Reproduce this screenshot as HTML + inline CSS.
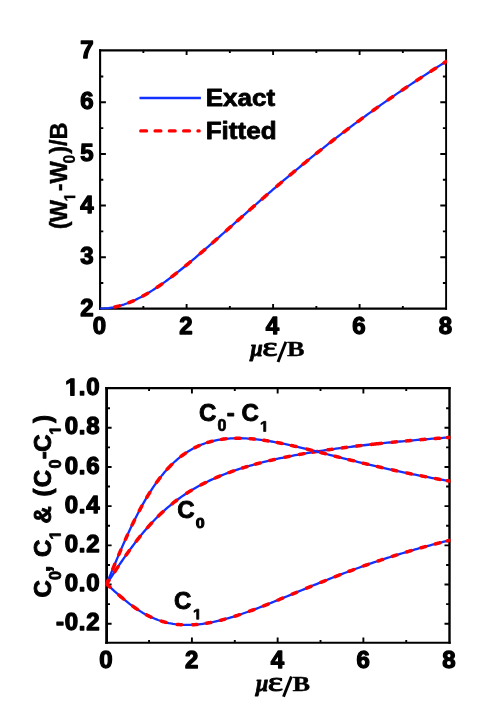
<!DOCTYPE html>
<html><head><meta charset="utf-8"><title>Figure</title>
<style>html,body{margin:0;padding:0;background:#fff}svg{display:block;will-change:transform;filter:blur(0.55px)}text{font-family:"Liberation Sans",sans-serif;font-weight:bold;fill:#000;stroke:#000;stroke-width:1.25px;stroke-linejoin:round}.t{font-size:24px}.k{letter-spacing:0.7px}.l{letter-spacing:1px}.s{font-size:16px}.ser{font-family:"Liberation Serif",serif;font-weight:bold;stroke:none}</style></head><body>
<svg width="498" height="726" viewBox="0 0 498 726">
<rect width="498" height="726" fill="#fff"/>
<defs><clipPath id="c1"><rect x="99.1" y="49.4" width="348.0" height="260.2"/></clipPath>
<clipPath id="c2"><rect x="105.6" y="387.1" width="344.9" height="256.7"/></clipPath></defs>
<path d="M186.60 308.60L186.60 304.10 M186.60 50.40L186.60 54.90 M273.10 308.60L273.10 304.10 M273.10 50.40L273.10 54.90 M359.60 308.60L359.60 304.10 M359.60 50.40L359.60 54.90 M143.35 308.60L143.35 306.00 M143.35 50.40L143.35 53.00 M229.85 308.60L229.85 306.00 M229.85 50.40L229.85 53.00 M316.35 308.60L316.35 306.00 M316.35 50.40L316.35 53.00 M402.85 308.60L402.85 306.00 M402.85 50.40L402.85 53.00 M100.10 257.21L105.90 257.21 M446.10 257.21L440.30 257.21 M100.10 205.57L105.90 205.57 M446.10 205.57L440.30 205.57 M100.10 153.93L105.90 153.93 M446.10 153.93L440.30 153.93 M100.10 102.29L105.90 102.29 M446.10 102.29L440.30 102.29 M100.10 283.03L103.30 283.03 M446.10 283.03L442.90 283.03 M100.10 231.39L103.30 231.39 M446.10 231.39L442.90 231.39 M100.10 179.75L103.30 179.75 M446.10 179.75L442.90 179.75 M100.10 128.11L103.30 128.11 M446.10 128.11L442.90 128.11 M100.10 76.47L103.30 76.47 M446.10 76.47L442.90 76.47" stroke="#000" stroke-width="1.9" fill="none"/>
<path d="M100.10 49.30V309.70" stroke="#000" stroke-width="2.1" fill="none"/>
<path d="M446.10 49.30V309.70" stroke="#000" stroke-width="1.9" fill="none"/>
<path d="M99.05 50.40H447.05" stroke="#000" stroke-width="2.2" fill="none"/>
<path d="M99.05 308.60H447.05" stroke="#000" stroke-width="2.2" fill="none"/>
<g clip-path="url(#c1)">
<path d="M100.10 308.60 L102.26 308.57 L104.42 308.46 L106.59 308.29 L108.75 308.05 L110.91 307.74 L113.07 307.37 L115.24 306.93 L117.40 306.42 L119.56 305.85 L121.72 305.22 L123.89 304.53 L126.05 303.77 L128.21 302.96 L130.38 302.09 L132.54 301.17 L134.70 300.19 L136.86 299.16 L139.03 298.08 L141.19 296.95 L143.35 295.77 L145.51 294.55 L147.68 293.29 L149.84 291.98 L152.00 290.63 L154.16 289.25 L156.32 287.83 L158.49 286.37 L160.65 284.89 L162.81 283.37 L164.97 281.82 L167.14 280.24 L169.30 278.63 L171.46 277.00 L173.62 275.35 L175.79 273.67 L177.95 271.97 L180.11 270.26 L182.28 268.52 L184.44 266.76 L186.60 264.99 L188.76 263.20 L190.93 261.40 L193.09 259.59 L195.25 257.76 L197.41 255.92 L199.57 254.07 L201.74 252.21 L203.90 250.34 L206.06 248.47 L208.22 246.58 L210.39 244.69 L212.55 242.80 L214.71 240.89 L216.88 238.99 L219.04 237.08 L221.20 235.17 L223.36 233.25 L225.52 231.33 L227.69 229.41 L229.85 227.49 L232.01 225.57 L234.18 223.65 L236.34 221.73 L238.50 219.81 L240.66 217.89 L242.83 215.97 L244.99 214.05 L247.15 212.14 L249.31 210.23 L251.47 208.32 L253.64 206.42 L255.80 204.51 L257.96 202.62 L260.12 200.72 L262.29 198.83 L264.45 196.95 L266.61 195.07 L268.77 193.19 L270.94 191.32 L273.10 189.45 L275.26 187.59 L277.42 185.74 L279.59 183.89 L281.75 182.05 L283.91 180.21 L286.07 178.38 L288.24 176.56 L290.40 174.74 L292.56 172.93 L294.73 171.12 L296.89 169.33 L299.05 167.54 L301.21 165.75 L303.38 163.97 L305.54 162.20 L307.70 160.44 L309.86 158.68 L312.02 156.93 L314.19 155.19 L316.35 153.45 L318.51 151.73 L320.68 150.01 L322.84 148.29 L325.00 146.58 L327.16 144.88 L329.32 143.19 L331.49 141.51 L333.65 139.83 L335.81 138.16 L337.98 136.49 L340.14 134.84 L342.30 133.19 L344.46 131.54 L346.62 129.91 L348.79 128.28 L350.95 126.66 L353.11 125.04 L355.27 123.44 L357.44 121.84 L359.60 120.24 L361.76 118.65 L363.93 117.07 L366.09 115.50 L368.25 113.93 L370.41 112.37 L372.57 110.82 L374.74 109.27 L376.90 107.73 L379.06 106.20 L381.23 104.67 L383.39 103.15 L385.55 101.63 L387.71 100.12 L389.88 98.62 L392.04 97.12 L394.20 95.63 L396.36 94.15 L398.52 92.67 L400.69 91.20 L402.85 89.73 L405.01 88.27 L407.18 86.82 L409.34 85.37 L411.50 83.92 L413.66 82.49 L415.82 81.05 L417.99 79.63 L420.15 78.21 L422.31 76.79 L424.48 75.38 L426.64 73.97 L428.80 72.58 L430.96 71.18 L433.12 69.79 L435.29 68.41 L437.45 67.03 L439.61 65.65 L441.77 64.28 L443.94 62.92 L446.10 61.56" fill="none" stroke="#1230ff" stroke-width="2.3" stroke-linecap="butt" stroke-linejoin="round"/>
<path d="M114.80 307.02 L115.45 306.88 L116.10 306.73 L116.75 306.58 L117.40 306.42 L118.05 306.26 L118.70 306.09 L119.35 305.91 M128.86 302.71 L129.51 302.45 L130.16 302.18 L130.81 301.91 L131.46 301.64 L132.10 301.36 L132.75 301.07 L133.40 300.78 M142.92 296.01 L143.57 295.65 L144.22 295.29 L144.86 294.92 L145.51 294.55 L146.16 294.18 L146.81 293.80 L147.46 293.41 M157.19 287.25 L157.84 286.81 L158.49 286.37 L159.14 285.93 L159.78 285.48 L160.43 285.04 L161.08 284.58 L161.73 284.13 M171.89 276.68 L172.54 276.18 L173.19 275.68 L173.84 275.18 L174.49 274.68 L175.14 274.18 L175.79 273.67 L176.44 273.17 M185.74 265.70 L186.38 265.17 L187.03 264.64 L187.68 264.10 L188.33 263.56 L188.98 263.02 L189.63 262.49 L190.28 261.94 M200.22 253.51 L200.87 252.96 L201.52 252.40 L202.17 251.84 L202.82 251.28 L203.47 250.72 L204.12 250.16 L204.76 249.59 M212.55 242.80 L213.20 242.23 L213.85 241.66 L214.50 241.09 L215.14 240.51 L215.79 239.94 L216.44 239.37 L217.09 238.80 M226.39 230.56 L227.04 229.99 L227.69 229.41 L228.34 228.84 L228.98 228.26 L229.63 227.68 L230.28 227.11 L230.93 226.53 M237.63 220.58 L238.28 220.00 L238.93 219.42 L239.58 218.85 L240.23 218.27 L240.88 217.70 L241.53 217.12 L242.18 216.55 M249.75 209.85 L250.39 209.27 L251.04 208.70 L251.69 208.13 L252.34 207.56 L252.99 206.99 L253.64 206.42 L254.29 205.84 M262.29 198.83 L262.94 198.27 L263.59 197.70 L264.23 197.14 L264.88 196.57 L265.53 196.01 L266.18 195.44 L266.83 194.88 M276.78 186.30 L277.42 185.74 L278.07 185.19 L278.72 184.63 L279.37 184.08 L280.02 183.52 L280.67 182.97 L281.32 182.42 M290.18 174.92 L290.83 174.38 L291.48 173.83 L292.13 173.29 L292.78 172.75 L293.43 172.21 L294.08 171.67 L294.73 171.12 M303.16 164.15 L303.81 163.62 L304.46 163.09 L305.11 162.56 L305.75 162.03 L306.40 161.50 L307.05 160.97 L307.70 160.44 M316.35 153.45 L317.00 152.94 L317.65 152.42 L318.30 151.90 L318.95 151.38 L319.59 150.87 L320.24 150.35 L320.89 149.83 M330.19 142.52 L330.84 142.01 L331.49 141.51 L332.14 141.00 L332.78 140.50 L333.43 140.00 L334.08 139.49 L334.73 138.99 M343.81 132.04 L344.46 131.54 L345.11 131.05 L345.76 130.56 L346.41 130.07 L347.06 129.58 L347.71 129.09 L348.36 128.61 M357.87 121.52 L358.52 121.04 L359.17 120.56 L359.82 120.08 L360.47 119.61 L361.11 119.13 L361.76 118.65 L362.41 118.18 M372.79 110.66 L373.44 110.20 L374.09 109.74 L374.74 109.27 L375.39 108.81 L376.03 108.35 L376.68 107.89 L377.33 107.42 M388.14 99.82 L388.79 99.37 L389.44 98.92 L390.09 98.47 L390.74 98.02 L391.39 97.57 L392.04 97.12 L392.69 96.68 M402.20 90.17 L402.85 89.73 L403.50 89.29 L404.15 88.86 L404.80 88.42 L405.45 87.98 L406.09 87.54 L406.74 87.11 M416.69 80.48 L417.34 80.05 L417.99 79.63 L418.64 79.20 L419.28 78.77 L419.93 78.35 L420.58 77.92 L421.23 77.50 M430.96 71.18 L431.61 70.76 L432.26 70.35 L432.91 69.93 L433.56 69.51 L434.21 69.10 L434.86 68.68 L435.50 68.27 M443.94 62.92 L444.59 62.51 L445.24 62.10 L445.88 61.70 L446.10 61.56" fill="none" stroke="#ff0000" stroke-width="3.5" stroke-linecap="round" stroke-linejoin="round"/>
</g>
<text transform="translate(93.50 315.90)" style="font-size:24px;stroke-width:1.3px" text-anchor="end">2</text>
<text transform="translate(93.50 264.26)" style="font-size:24px;stroke-width:1.3px" text-anchor="end">3</text>
<text transform="translate(93.50 212.62)" style="font-size:24px;stroke-width:1.3px" text-anchor="end">4</text>
<text transform="translate(93.50 160.98)" style="font-size:24px;stroke-width:1.3px" text-anchor="end">5</text>
<text transform="translate(93.50 109.34)" style="font-size:24px;stroke-width:1.3px" text-anchor="end">6</text>
<text transform="translate(93.50 57.70)" style="font-size:24px;stroke-width:1.3px" text-anchor="end">7</text>
<text transform="translate(99.50 334.00)" style="font-size:24px;stroke-width:1.3px" text-anchor="middle">0</text>
<text transform="translate(186.00 334.00)" style="font-size:24px;stroke-width:1.3px" text-anchor="middle">2</text>
<text transform="translate(272.50 334.00)" style="font-size:24px;stroke-width:1.3px" text-anchor="middle">4</text>
<text transform="translate(359.00 334.00)" style="font-size:24px;stroke-width:1.3px" text-anchor="middle">6</text>
<text transform="translate(445.50 334.00)" style="font-size:24px;stroke-width:1.3px" text-anchor="middle">8</text>
<path d="M139.5 97.95H200.9" stroke="#1230ff" stroke-width="2.6" fill="none"/>
<path d="M140.7 130.9H199.2" stroke="#ff0000" stroke-width="3.2" fill="none" stroke-linecap="round" stroke-dasharray="5.9 8.4"/>
<text transform="translate(205.70 106.20) scale(1.085 0.965)" style="font-size:24px;stroke-width:0.8px">Exact</text>
<text transform="translate(205.70 139.20) scale(1.085 0.965)" style="font-size:24px;stroke-width:0.8px">Fitted</text>
<g transform="translate(66.5 230.2) rotate(-90) scale(0.982 1)">
<text transform="translate(0.90 0.00) scale(1 1.000)" style="font-size:24px;stroke-width:0.4px">(</text>
<text transform="translate(7.99 0.00) scale(1 1.000)" style="font-size:24px;stroke-width:0.4px">W</text>
<path d="M478 0V1170L140 959V1180L493 1409H759V0Z" transform="translate(29.15 8.70) scale(0.00781 -0.00781)" fill="#000" stroke="#000" stroke-width="0.3" stroke-linejoin="round" vector-effect="non-scaling-stroke"/>
<text transform="translate(39.54 0.00) scale(1 1.000)" style="font-size:24px;stroke-width:0.4px">-</text>
<text transform="translate(47.54 0.00) scale(1 1.000)" style="font-size:24px;stroke-width:0.4px">W</text>
<text transform="translate(67.89 8.70) scale(1 1.000)" style="font-size:16px;stroke-width:0.3px">0</text>
<text transform="translate(77.79 0.00) scale(1 1.000)" style="font-size:24px;stroke-width:0.4px">)</text>
<text transform="translate(85.78 0.00) scale(1 1.000)" style="font-size:24px;stroke-width:0.4px">/</text>
<text transform="translate(92.35 0.00) scale(1 1.000)" style="font-size:24px;stroke-width:0.4px">B</text>
</g>
<g transform="translate(0.00 0.00)">
<text class="ser" font-size="100" font-style="italic" transform="translate(250.54 355.92) scale(0.2209 0.2247)" style="stroke:#000;stroke-width:3.6px">μ</text>
<text class="ser" font-size="100" transform="translate(262.29 356.13) scale(0.3659 0.2765)" style="font-weight:normal;stroke:#000;stroke-width:3.4px">ε</text>
<path d="M278.0 362.1L285.9 341.7" stroke="#000" stroke-width="2.9" fill="none"/>
<text class="ser" font-size="100" transform="translate(287.06 356.04) scale(0.2634 0.1992)" style="stroke:#000;stroke-width:1.6px">B</text>
</g>
<path d="M191.92 642.80L191.92 637.40 M191.92 388.10L191.92 393.50 M277.65 642.80L277.65 637.40 M277.65 388.10L277.65 393.50 M363.38 642.80L363.38 637.40 M363.38 388.10L363.38 393.50 M149.06 642.80L149.06 640.00 M149.06 388.10L149.06 390.90 M234.79 642.80L234.79 640.00 M234.79 388.10L234.79 390.90 M320.51 642.80L320.51 640.00 M320.51 388.10L320.51 390.90 M406.24 642.80L406.24 640.00 M406.24 388.10L406.24 390.90 M106.60 623.71L111.60 623.71 M449.50 623.71L444.50 623.71 M106.60 584.52L111.60 584.52 M449.50 584.52L444.50 584.52 M106.60 545.34L111.60 545.34 M449.50 545.34L444.50 545.34 M106.60 506.15L111.60 506.15 M449.50 506.15L444.50 506.15 M106.60 466.97L111.60 466.97 M449.50 466.97L444.50 466.97 M106.60 427.78L111.60 427.78 M449.50 427.78L444.50 427.78 M106.60 604.12L110.00 604.12 M449.50 604.12L446.10 604.12 M106.60 564.93L110.00 564.93 M449.50 564.93L446.10 564.93 M106.60 525.75L110.00 525.75 M449.50 525.75L446.10 525.75 M106.60 486.56L110.00 486.56 M449.50 486.56L446.10 486.56 M106.60 447.38L110.00 447.38 M449.50 447.38L446.10 447.38 M106.60 408.19L110.00 408.19 M449.50 408.19L446.10 408.19" stroke="#000" stroke-width="1.9" fill="none"/>
<path d="M106.60 387.05V643.85" stroke="#000" stroke-width="2.8" fill="none"/>
<path d="M449.50 387.05V643.85" stroke="#000" stroke-width="2.4" fill="none"/>
<path d="M105.20 388.10H450.70" stroke="#000" stroke-width="2.1" fill="none"/>
<path d="M105.20 642.80H450.70" stroke="#000" stroke-width="2.1" fill="none"/>
<g clip-path="url(#c2)">
<path d="M106.60 584.02 L108.74 580.76 L110.89 577.50 L113.03 574.25 L115.17 571.02 L117.32 567.82 L119.46 564.64 L121.60 561.50 L123.74 558.39 L125.89 555.33 L128.03 552.32 L130.17 549.36 L132.32 546.45 L134.46 543.59 L136.60 540.80 L138.75 538.07 L140.89 535.40 L143.03 532.79 L145.18 530.26 L147.32 527.78 L149.46 525.37 L151.61 523.03 L153.75 520.76 L155.89 518.54 L158.03 516.40 L160.18 514.31 L162.32 512.29 L164.46 510.33 L166.61 508.43 L168.75 506.59 L170.89 504.81 L173.04 503.08 L175.18 501.40 L177.32 499.78 L179.47 498.21 L181.61 496.68 L183.75 495.21 L185.90 493.78 L188.04 492.39 L190.18 491.05 L192.32 489.75 L194.47 488.48 L196.61 487.26 L198.75 486.07 L200.90 484.92 L203.04 483.80 L205.18 482.71 L207.33 481.66 L209.47 480.64 L211.61 479.64 L213.76 478.68 L215.90 477.74 L218.04 476.82 L220.19 475.93 L222.33 475.07 L224.47 474.23 L226.62 473.41 L228.76 472.61 L230.90 471.83 L233.04 471.08 L235.19 470.34 L237.33 469.62 L239.47 468.92 L241.62 468.23 L243.76 467.56 L245.90 466.91 L248.05 466.27 L250.19 465.65 L252.33 465.04 L254.48 464.45 L256.62 463.87 L258.76 463.30 L260.90 462.74 L263.05 462.20 L265.19 461.66 L267.33 461.14 L269.48 460.63 L271.62 460.13 L273.76 459.64 L275.91 459.16 L278.05 458.69 L280.19 458.23 L282.34 457.78 L284.48 457.34 L286.62 456.90 L288.77 456.47 L290.91 456.05 L293.05 455.64 L295.19 455.24 L297.34 454.84 L299.48 454.45 L301.62 454.07 L303.77 453.69 L305.91 453.32 L308.05 452.96 L310.20 452.60 L312.34 452.25 L314.48 451.90 L316.63 451.56 L318.77 451.23 L320.91 450.90 L323.06 450.57 L325.20 450.25 L327.34 449.94 L329.49 449.63 L331.63 449.32 L333.77 449.02 L335.91 448.73 L338.06 448.43 L340.20 448.15 L342.34 447.86 L344.49 447.58 L346.63 447.31 L348.77 447.04 L350.92 446.77 L353.06 446.51 L355.20 446.24 L357.35 445.99 L359.49 445.73 L361.63 445.48 L363.77 445.24 L365.92 444.99 L368.06 444.75 L370.20 444.51 L372.35 444.28 L374.49 444.05 L376.63 443.82 L378.78 443.59 L380.92 443.37 L383.06 443.15 L385.21 442.93 L387.35 442.72 L389.49 442.50 L391.64 442.29 L393.78 442.08 L395.92 441.88 L398.06 441.68 L400.21 441.48 L402.35 441.28 L404.49 441.08 L406.64 440.89 L408.78 440.69 L410.92 440.50 L413.07 440.32 L415.21 440.13 L417.35 439.95 L419.50 439.77 L421.64 439.59 L423.78 439.41 L425.93 439.23 L428.07 439.06 L430.21 438.88 L432.36 438.71 L434.50 438.54 L436.64 438.38 L438.78 438.21 L440.93 438.05 L443.07 437.89 L445.21 437.72 L447.36 437.57 L449.50 437.41" fill="none" stroke="#1230ff" stroke-width="2.3" stroke-linecap="butt" stroke-linejoin="round"/>
<path d="M106.60 584.02 L107.24 583.04 L107.89 582.06 L108.53 581.08 L108.96 580.43 M114.74 571.67 L115.39 570.70 L116.03 569.74 L116.67 568.78 L117.32 567.82 L117.96 566.86 M126.10 555.03 L126.75 554.12 L127.39 553.22 L128.03 552.32 L128.67 551.42 L129.32 550.53 M136.39 541.08 L137.03 540.25 L137.68 539.43 L138.32 538.61 L138.96 537.80 L139.60 536.99 L140.03 536.46 M147.53 527.54 L148.18 526.81 L148.82 526.09 L149.46 525.37 L150.11 524.66 L150.75 523.96 L151.39 523.26 L151.61 523.03 M158.46 515.98 L159.11 515.35 L159.75 514.73 L160.39 514.11 L161.04 513.50 L161.68 512.89 L162.32 512.29 L162.96 511.70 M172.18 503.76 L172.82 503.25 L173.47 502.74 L174.11 502.23 L174.75 501.73 L175.39 501.24 L176.04 500.75 L176.68 500.26 M186.75 493.22 L187.40 492.80 L188.04 492.39 L188.68 491.98 L189.32 491.58 L189.97 491.18 L190.61 490.78 L191.25 490.39 M201.11 484.81 L201.75 484.47 L202.40 484.13 L203.04 483.80 L203.68 483.47 L204.33 483.15 L204.97 482.82 L205.61 482.50 M215.26 478.02 L215.90 477.74 L216.54 477.46 L217.19 477.19 L217.83 476.91 L218.47 476.64 L219.11 476.38 L219.76 476.11 M228.97 472.53 L229.62 472.30 L230.26 472.06 L230.90 471.83 L231.54 471.60 L232.19 471.38 L232.83 471.15 L233.47 470.93 M242.47 467.96 L243.12 467.76 L243.76 467.56 L244.40 467.37 L245.05 467.17 L245.69 466.97 L246.33 466.78 L246.97 466.59 M255.55 464.15 L256.19 463.98 L256.83 463.81 L257.48 463.64 L258.12 463.47 L258.76 463.30 L259.40 463.13 L260.05 462.96 M269.91 460.53 L270.55 460.38 L271.19 460.23 L271.83 460.08 L272.48 459.94 L273.12 459.79 L273.76 459.64 L274.41 459.50 M284.91 457.25 L285.55 457.12 L286.19 456.99 L286.84 456.86 L287.48 456.73 L288.12 456.60 L288.77 456.47 L289.41 456.35 M299.48 454.45 L300.12 454.34 L300.77 454.22 L301.41 454.11 L302.05 453.99 L302.70 453.88 L303.34 453.77 L303.98 453.65 M312.98 452.14 L313.63 452.04 L314.27 451.94 L314.91 451.83 L315.55 451.73 L316.20 451.63 L316.84 451.53 L317.48 451.43 M327.98 449.84 L328.63 449.75 L329.27 449.66 L329.91 449.57 L330.56 449.48 L331.20 449.38 L331.84 449.29 L332.49 449.20 M342.13 447.89 L342.77 447.81 L343.42 447.72 L344.06 447.64 L344.70 447.56 L345.34 447.47 L345.99 447.39 L346.63 447.31 M356.49 446.09 L357.13 446.01 L357.77 445.94 L358.42 445.86 L359.06 445.78 L359.70 445.71 L360.35 445.63 L360.99 445.56 M392.06 442.25 L392.71 442.19 L393.35 442.13 L393.99 442.06 L394.64 442.00 L395.28 441.94 L395.92 441.88 L396.56 441.82 M406.21 440.93 L406.85 440.87 L407.49 440.81 L408.14 440.75 L408.78 440.69 L409.42 440.64 L410.07 440.58 L410.71 440.52 M420.57 439.68 L421.21 439.62 L421.85 439.57 L422.50 439.51 L423.14 439.46 L423.78 439.41 L424.43 439.35 L425.07 439.30 M435.14 438.49 L435.78 438.44 L436.43 438.39 L437.07 438.34 L437.71 438.29 L438.36 438.24 L439.00 438.20 L439.64 438.15 M447.36 437.57 L448.00 437.52 L448.64 437.47 L449.29 437.42 L449.50 437.41 M371.28 444.40 L371.92 444.33 L372.56 444.26 L373.20 444.19 L373.85 444.12 L374.49 444.05 L375.13 443.98 L375.78 443.91 L376.42 443.84 L377.06 443.77 L377.71 443.71 L378.35 443.64 L378.99 443.57 L379.63 443.50 L380.28 443.44 L380.92 443.37 L381.35 443.33" fill="none" stroke="#ff0000" stroke-width="3.5" stroke-linecap="round" stroke-linejoin="round"/>
<path d="M106.60 584.02 L108.74 578.80 L110.89 573.59 L113.03 568.40 L115.17 563.25 L117.32 558.15 L119.46 553.10 L121.60 548.13 L123.74 543.23 L125.89 538.42 L128.03 533.70 L130.17 529.09 L132.32 524.58 L134.46 520.19 L136.60 515.93 L138.75 511.78 L140.89 507.77 L143.03 503.88 L145.18 500.13 L147.32 496.51 L149.46 493.03 L151.61 489.68 L153.75 486.46 L155.89 483.38 L158.03 480.43 L160.18 477.61 L162.32 474.91 L164.46 472.34 L166.61 469.90 L168.75 467.57 L170.89 465.36 L173.04 463.26 L175.18 461.27 L177.32 459.40 L179.47 457.62 L181.61 455.95 L183.75 454.37 L185.90 452.89 L188.04 451.50 L190.18 450.19 L192.32 448.98 L194.47 447.84 L196.61 446.78 L198.75 445.80 L200.90 444.89 L203.04 444.05 L205.18 443.28 L207.33 442.58 L209.47 441.93 L211.61 441.35 L213.76 440.82 L215.90 440.35 L218.04 439.93 L220.19 439.57 L222.33 439.25 L224.47 438.97 L226.62 438.75 L228.76 438.56 L230.90 438.42 L233.04 438.32 L235.19 438.25 L237.33 438.22 L239.47 438.23 L241.62 438.26 L243.76 438.33 L245.90 438.43 L248.05 438.56 L250.19 438.71 L252.33 438.90 L254.48 439.10 L256.62 439.33 L258.76 439.58 L260.90 439.86 L263.05 440.15 L265.19 440.46 L267.33 440.79 L269.48 441.14 L271.62 441.50 L273.76 441.88 L275.91 442.28 L278.05 442.68 L280.19 443.11 L282.34 443.54 L284.48 443.98 L286.62 444.43 L288.77 444.90 L290.91 445.37 L293.05 445.85 L295.19 446.34 L297.34 446.84 L299.48 447.34 L301.62 447.85 L303.77 448.36 L305.91 448.88 L308.05 449.40 L310.20 449.93 L312.34 450.46 L314.48 450.99 L316.63 451.53 L318.77 452.07 L320.91 452.61 L323.06 453.15 L325.20 453.69 L327.34 454.24 L329.49 454.78 L331.63 455.32 L333.77 455.87 L335.91 456.41 L338.06 456.95 L340.20 457.49 L342.34 458.03 L344.49 458.57 L346.63 459.11 L348.77 459.65 L350.92 460.18 L353.06 460.71 L355.20 461.24 L357.35 461.77 L359.49 462.29 L361.63 462.81 L363.77 463.33 L365.92 463.85 L368.06 464.36 L370.20 464.87 L372.35 465.37 L374.49 465.87 L376.63 466.37 L378.78 466.87 L380.92 467.36 L383.06 467.85 L385.21 468.33 L387.35 468.81 L389.49 469.29 L391.64 469.76 L393.78 470.23 L395.92 470.70 L398.06 471.16 L400.21 471.61 L402.35 472.07 L404.49 472.52 L406.64 472.96 L408.78 473.41 L410.92 473.84 L413.07 474.28 L415.21 474.71 L417.35 475.13 L419.50 475.55 L421.64 475.97 L423.78 476.39 L425.93 476.80 L428.07 477.20 L430.21 477.61 L432.36 478.01 L434.50 478.40 L436.64 478.79 L438.78 479.18 L440.93 479.56 L443.07 479.95 L445.21 480.32 L447.36 480.70 L449.50 481.07" fill="none" stroke="#1230ff" stroke-width="2.3" stroke-linecap="butt" stroke-linejoin="round"/>
<path d="M106.60 584.02 L107.24 582.46 L107.89 580.89 L108.10 580.37 M112.82 568.92 L113.46 567.37 L114.10 565.82 L114.74 564.28 M118.82 554.61 L119.46 553.10 L120.10 551.60 L120.74 550.11 M125.46 539.37 L126.10 537.94 L126.75 536.52 L127.39 535.10 M132.10 525.03 L132.75 523.70 L133.39 522.37 L134.03 521.06 L134.46 520.19 M139.39 510.57 L140.03 509.36 L140.68 508.16 L141.32 506.98 L141.75 506.20 M146.89 497.23 L147.53 496.16 L148.18 495.10 L148.82 494.06 L149.46 493.03 L149.68 492.69 M156.53 482.48 L157.18 481.59 L157.82 480.72 L158.46 479.85 L159.11 479.00 L159.75 478.16 L159.96 477.88 M167.25 469.18 L167.89 468.48 L168.54 467.80 L169.18 467.12 L169.82 466.45 L170.47 465.79 L171.11 465.14 L171.75 464.51 M180.97 456.44 L181.61 455.95 L182.25 455.46 L182.90 454.99 L183.54 454.52 L184.18 454.07 L184.82 453.62 L185.47 453.18 M194.68 447.73 L195.33 447.41 L195.97 447.09 L196.61 446.78 L197.25 446.48 L197.90 446.18 L198.54 445.89 L199.18 445.61 M207.76 442.44 L208.40 442.25 L209.04 442.06 L209.68 441.87 L210.33 441.69 L210.97 441.52 L211.61 441.35 L212.26 441.18 M221.47 439.37 L222.11 439.28 L222.76 439.19 L223.40 439.11 L224.04 439.03 L224.69 438.95 L225.33 438.88 L225.97 438.81 M235.62 438.24 L236.26 438.23 L236.90 438.23 L237.54 438.22 L238.19 438.22 L238.83 438.22 L239.47 438.23 L240.12 438.23 M249.98 438.70 L250.62 438.75 L251.26 438.80 L251.90 438.86 L252.55 438.92 L253.19 438.98 L253.83 439.04 L254.48 439.10 M263.69 440.24 L264.33 440.33 L264.98 440.43 L265.62 440.53 L266.26 440.62 L266.91 440.72 L267.55 440.83 L268.19 440.93 M277.41 442.56 L278.05 442.68 L278.69 442.81 L279.34 442.94 L279.98 443.06 L280.62 443.19 L281.26 443.32 L281.91 443.45 M291.55 445.51 L292.19 445.66 L292.84 445.80 L293.48 445.95 L294.12 446.09 L294.77 446.24 L295.41 446.39 L296.05 446.54 M306.98 449.14 L307.63 449.30 L308.27 449.45 L308.91 449.61 L309.55 449.77 L310.20 449.93 L310.84 450.09 L311.48 450.25 M320.91 452.61 L321.56 452.77 L322.20 452.93 L322.84 453.10 L323.48 453.26 L324.13 453.42 L324.77 453.58 L325.41 453.75 M335.06 456.19 L335.70 456.36 L336.34 456.52 L336.99 456.68 L337.63 456.84 L338.27 457.01 L338.91 457.17 L339.56 457.33 M348.99 459.70 L349.63 459.86 L350.27 460.02 L350.92 460.18 L351.56 460.34 L352.20 460.50 L352.85 460.66 L353.49 460.82 M363.13 463.18 L363.77 463.33 L364.42 463.49 L365.06 463.64 L365.70 463.79 L366.35 463.95 L366.99 464.10 L367.63 464.26 M377.49 466.57 L378.13 466.72 L378.78 466.87 L379.42 467.02 L380.06 467.16 L380.71 467.31 L381.35 467.46 L381.99 467.60 M392.28 469.90 L392.92 470.04 L393.56 470.18 L394.21 470.32 L394.85 470.46 L395.49 470.60 L396.14 470.74 L396.78 470.88 M406.85 473.01 L407.49 473.14 L408.14 473.27 L408.78 473.41 L409.42 473.54 L410.07 473.67 L410.71 473.80 L411.35 473.93 M421.21 475.89 L421.85 476.01 L422.50 476.14 L423.14 476.26 L423.78 476.39 L424.43 476.51 L425.07 476.63 L425.71 476.76 M435.57 478.60 L436.21 478.72 L436.86 478.83 L437.50 478.95 L438.14 479.06 L438.78 479.18 L439.43 479.30 L440.07 479.41 M447.36 480.70 L448.00 480.81 L448.64 480.92 L449.29 481.03 L449.50 481.07" fill="none" stroke="#ff0000" stroke-width="3.5" stroke-linecap="round" stroke-linejoin="round"/>
<path d="M106.60 584.02 L108.74 585.98 L110.89 587.93 L113.03 589.87 L115.17 591.80 L117.32 593.69 L119.46 595.56 L121.60 597.40 L123.74 599.19 L125.89 600.94 L128.03 602.64 L130.17 604.29 L132.32 605.89 L134.46 607.42 L136.60 608.90 L138.75 610.31 L140.89 611.65 L143.03 612.93 L145.18 614.15 L147.32 615.29 L149.46 616.37 L151.61 617.38 L153.75 618.31 L155.89 619.19 L158.03 619.99 L160.18 620.73 L162.32 621.40 L164.46 622.01 L166.61 622.56 L168.75 623.05 L170.89 623.47 L173.04 623.84 L175.18 624.15 L177.32 624.41 L179.47 624.61 L181.61 624.76 L183.75 624.86 L185.90 624.91 L188.04 624.92 L190.18 624.88 L192.32 624.79 L194.47 624.67 L196.61 624.50 L198.75 624.29 L200.90 624.05 L203.04 623.77 L205.18 623.46 L207.33 623.11 L209.47 622.73 L211.61 622.32 L213.76 621.88 L215.90 621.41 L218.04 620.91 L220.19 620.39 L222.33 619.85 L224.47 619.28 L226.62 618.68 L228.76 618.07 L230.90 617.44 L233.04 616.78 L235.19 616.11 L237.33 615.42 L239.47 614.71 L241.62 613.99 L243.76 613.25 L245.90 612.50 L248.05 611.74 L250.19 610.96 L252.33 610.17 L254.48 609.37 L256.62 608.56 L258.76 607.74 L260.90 606.91 L263.05 606.07 L265.19 605.23 L267.33 604.37 L269.48 603.52 L271.62 602.65 L273.76 601.78 L275.91 600.91 L278.05 600.03 L280.19 599.15 L282.34 598.27 L284.48 597.38 L286.62 596.49 L288.77 595.60 L290.91 594.71 L293.05 593.81 L295.19 592.92 L297.34 592.03 L299.48 591.14 L301.62 590.24 L303.77 589.35 L305.91 588.47 L308.05 587.58 L310.20 586.69 L312.34 585.81 L314.48 584.93 L316.63 584.06 L318.77 583.18 L320.91 582.31 L323.06 581.45 L325.20 580.58 L327.34 579.73 L329.49 578.87 L331.63 578.02 L333.77 577.18 L335.91 576.34 L338.06 575.51 L340.20 574.68 L342.34 573.85 L344.49 573.03 L346.63 572.22 L348.77 571.41 L350.92 570.61 L353.06 569.82 L355.20 569.03 L357.35 568.24 L359.49 567.47 L361.63 566.69 L363.77 565.93 L365.92 565.17 L368.06 564.42 L370.20 563.67 L372.35 562.93 L374.49 562.20 L376.63 561.47 L378.78 560.75 L380.92 560.03 L383.06 559.32 L385.21 558.62 L387.35 557.93 L389.49 557.24 L391.64 556.55 L393.78 555.88 L395.92 555.21 L398.06 554.54 L400.21 553.88 L402.35 553.23 L404.49 552.59 L406.64 551.95 L408.78 551.31 L410.92 550.69 L413.07 550.06 L415.21 549.45 L417.35 548.84 L419.50 548.23 L421.64 547.64 L423.78 547.04 L425.93 546.46 L428.07 545.88 L430.21 545.30 L432.36 544.73 L434.50 544.17 L436.64 543.61 L438.78 543.05 L440.93 542.51 L443.07 541.96 L445.21 541.43 L447.36 540.89 L449.50 540.37" fill="none" stroke="#1230ff" stroke-width="2.3" stroke-linecap="butt" stroke-linejoin="round"/>
<path d="M106.60 584.02 L107.24 584.61 L107.89 585.20 L108.53 585.79 L109.17 586.37 L109.81 586.96 M119.03 595.19 L119.67 595.75 L120.32 596.30 L120.96 596.85 L121.60 597.40 L122.24 597.94 L122.89 598.48 L123.53 599.01 M132.75 606.20 L133.39 606.66 L134.03 607.12 L134.67 607.57 L135.32 608.02 L135.96 608.46 L136.60 608.90 L137.25 609.33 M146.46 614.84 L147.11 615.18 L147.75 615.51 L148.39 615.84 L149.03 616.16 L149.68 616.47 L150.32 616.78 L150.96 617.08 M161.46 621.14 L162.11 621.34 L162.75 621.53 L163.39 621.72 L164.04 621.90 L164.68 622.07 L165.32 622.24 L165.96 622.40 M177.11 624.39 L177.75 624.45 L178.39 624.52 L179.04 624.57 L179.68 624.63 L180.32 624.68 L180.97 624.72 L181.61 624.76 M192.54 624.78 L193.18 624.75 L193.83 624.71 L194.47 624.67 L195.11 624.62 L195.75 624.57 L196.40 624.52 L197.04 624.46 M206.26 623.29 L206.90 623.18 L207.54 623.07 L208.18 622.96 L208.83 622.85 L209.47 622.73 L210.11 622.61 L210.76 622.49 M220.40 620.34 L221.04 620.18 L221.69 620.01 L222.33 619.85 L222.97 619.68 L223.61 619.51 L224.26 619.33 L224.90 619.16 M234.97 616.18 L235.62 615.97 L236.26 615.77 L236.90 615.56 L237.54 615.35 L238.19 615.14 L238.83 614.93 L239.47 614.71 M249.55 611.19 L250.19 610.96 L250.83 610.72 L251.48 610.49 L252.12 610.25 L252.76 610.01 L253.40 609.77 L254.05 609.53 M263.69 605.82 L264.33 605.57 L264.98 605.31 L265.62 605.06 L266.26 604.80 L266.91 604.55 L267.55 604.29 L268.19 604.03 M278.05 600.03 L278.69 599.77 L279.34 599.50 L279.98 599.24 L280.62 598.97 L281.26 598.71 L281.91 598.44 L282.55 598.18 M292.19 594.17 L292.84 593.90 L293.48 593.64 L294.12 593.37 L294.77 593.10 L295.41 592.83 L296.05 592.56 L296.70 592.30 M306.55 588.20 L307.20 587.93 L307.84 587.67 L308.48 587.40 L309.13 587.14 L309.77 586.87 L310.41 586.61 L311.05 586.34 M320.91 582.31 L321.56 582.05 L322.20 581.79 L322.84 581.53 L323.48 581.27 L324.13 581.01 L324.77 580.76 L325.41 580.50 M335.27 576.59 L335.91 576.34 L336.56 576.09 L337.20 575.84 L337.84 575.59 L338.49 575.34 L339.13 575.09 L339.77 574.84 M349.20 571.25 L349.84 571.01 L350.49 570.77 L351.13 570.53 L351.77 570.29 L352.42 570.05 L353.06 569.82 L353.70 569.58 M363.77 565.93 L364.42 565.70 L365.06 565.47 L365.70 565.25 L366.35 565.02 L366.99 564.79 L367.63 564.57 L368.28 564.34 M378.13 560.96 L378.78 560.75 L379.42 560.53 L380.06 560.32 L380.71 560.10 L381.35 559.89 L381.99 559.68 L382.63 559.47 M392.28 556.35 L392.92 556.15 L393.56 555.94 L394.21 555.74 L394.85 555.54 L395.49 555.34 L396.14 555.14 L396.78 554.94 M406.64 551.95 L407.28 551.76 L407.92 551.57 L408.57 551.38 L409.21 551.19 L409.85 551.00 L410.50 550.81 L411.14 550.62 M421.00 547.81 L421.64 547.64 L422.28 547.46 L422.93 547.28 L423.57 547.10 L424.21 546.93 L424.85 546.75 L425.50 546.57 M435.36 543.94 L436.00 543.77 L436.64 543.61 L437.28 543.44 L437.93 543.27 L438.57 543.11 L439.21 542.94 L439.86 542.78 M447.36 540.89 L448.00 540.73 L448.64 540.58 L449.29 540.42 L449.50 540.37" fill="none" stroke="#ff0000" stroke-width="3.5" stroke-linecap="round" stroke-linejoin="round"/>
</g>
<text transform="translate(100.20 630.41)" style="font-size:24px;stroke-width:1.3px;letter-spacing:0.7px" text-anchor="end">-0.2</text>
<text transform="translate(100.20 591.22)" style="font-size:24px;stroke-width:1.3px;letter-spacing:0.7px" text-anchor="end">0.0</text>
<text transform="translate(100.20 552.04)" style="font-size:24px;stroke-width:1.3px;letter-spacing:0.7px" text-anchor="end">0.2</text>
<text transform="translate(100.20 512.85)" style="font-size:24px;stroke-width:1.3px;letter-spacing:0.7px" text-anchor="end">0.4</text>
<text transform="translate(100.20 473.67)" style="font-size:24px;stroke-width:1.3px;letter-spacing:0.7px" text-anchor="end">0.6</text>
<text transform="translate(100.20 434.48)" style="font-size:24px;stroke-width:1.3px;letter-spacing:0.7px" text-anchor="end">0.8</text>
<text transform="translate(100.20 395.30)" style="font-size:24px;stroke-width:1.3px;letter-spacing:0.7px" text-anchor="end"><tspan style="fill:none;stroke:none">1</tspan>.0</text>
<path d="M478 0V1170L140 959V1180L493 1409H759V0Z" transform="translate(65.14 395.30) scale(0.01172 -0.01172)" fill="#000" stroke="#000" stroke-width="1.3" stroke-linejoin="round" vector-effect="non-scaling-stroke"/>
<text transform="translate(105.90 668.00)" style="font-size:24px;stroke-width:1.3px" text-anchor="middle">0</text>
<text transform="translate(191.62 668.00)" style="font-size:24px;stroke-width:1.3px" text-anchor="middle">2</text>
<text transform="translate(277.35 668.00)" style="font-size:24px;stroke-width:1.3px" text-anchor="middle">4</text>
<text transform="translate(363.07 668.00)" style="font-size:24px;stroke-width:1.3px" text-anchor="middle">6</text>
<text transform="translate(448.80 668.00)" style="font-size:24px;stroke-width:1.3px" text-anchor="middle">8</text>
<g transform="translate(5.50 334.70)">
<text class="ser" font-size="100" font-style="italic" transform="translate(250.54 355.92) scale(0.2209 0.2247)" style="stroke:#000;stroke-width:3.6px">μ</text>
<text class="ser" font-size="100" transform="translate(262.29 356.13) scale(0.3659 0.2765)" style="font-weight:normal;stroke:#000;stroke-width:3.4px">ε</text>
<path d="M278.0 362.1L285.9 341.7" stroke="#000" stroke-width="2.9" fill="none"/>
<text class="ser" font-size="100" transform="translate(287.06 356.04) scale(0.2634 0.1992)" style="stroke:#000;stroke-width:1.6px">B</text>
</g>
<text transform="translate(198.90 421.20)" style="font-size:24px;stroke-width:0.9px">C</text>
<text transform="translate(217.60 430.90)" style="font-size:16px;stroke-width:0.7px">0</text>
<text transform="translate(226.80 421.40)" style="font-size:24px;stroke-width:0.9px">-</text>
<text transform="translate(241.50 421.20)" style="font-size:24px;stroke-width:0.9px">C</text>
<path d="M478 0V1170L140 959V1180L493 1409H759V0Z" transform="translate(259.90 431.50) scale(0.00781 -0.00719)" fill="#000" stroke="#000" stroke-width="0.7" stroke-linejoin="round" vector-effect="non-scaling-stroke"/>
<text transform="translate(177.20 517.60)" style="font-size:24px;stroke-width:0.9px">C</text>
<text transform="translate(195.80 527.80) scale(1.000 0.880)" style="font-size:16px;stroke-width:1.1px">0</text>
<text transform="translate(174.10 609.00)" style="font-size:24px;stroke-width:0.9px">C</text>
<path d="M478 0V1170L140 959V1180L493 1409H759V0Z" transform="translate(192.90 619.30) scale(0.00781 -0.00719)" fill="#000" stroke="#000" stroke-width="0.7" stroke-linejoin="round" vector-effect="non-scaling-stroke"/>
<g transform="translate(50.8 597.6) rotate(-90)">
<text transform="translate(0.00 0.00)" style="font-size:24px;stroke-width:0.9px">C</text>
<text transform="translate(17.60 9.80)" style="font-size:16px;stroke-width:0.8px">0</text>
<text transform="translate(25.40 -0.50)" style="font-size:24px;stroke-width:0.9px">,</text>
<text transform="translate(40.70 0.00)" style="font-size:24px;stroke-width:0.9px">C</text>
<path d="M478 0V1170L140 959V1180L493 1409H759V0Z" transform="translate(58.00 9.80) scale(0.00781 -0.00781)" fill="#000" stroke="#000" stroke-width="0.8" stroke-linejoin="round" vector-effect="non-scaling-stroke"/>
<text transform="translate(74.10 0.00)" style="font-size:24px;stroke-width:0.9px">&amp;</text>
<text transform="translate(101.10 0.00)" style="font-size:24px;stroke-width:0.9px">(</text>
<text transform="translate(110.30 0.00)" style="font-size:24px;stroke-width:0.9px">C</text>
<text transform="translate(129.20 9.80)" style="font-size:16px;stroke-width:0.8px">0</text>
<text transform="translate(138.40 0.00)" style="font-size:24px;stroke-width:0.9px">-</text>
<text transform="translate(145.90 0.00)" style="font-size:24px;stroke-width:0.9px">C</text>
<path d="M478 0V1170L140 959V1180L493 1409H759V0Z" transform="translate(162.80 9.80) scale(0.00781 -0.00781)" fill="#000" stroke="#000" stroke-width="0.8" stroke-linejoin="round" vector-effect="non-scaling-stroke"/>
<text transform="translate(174.70 0.00)" style="font-size:24px;stroke-width:0.9px">)</text>
</g>
</svg></body></html>
